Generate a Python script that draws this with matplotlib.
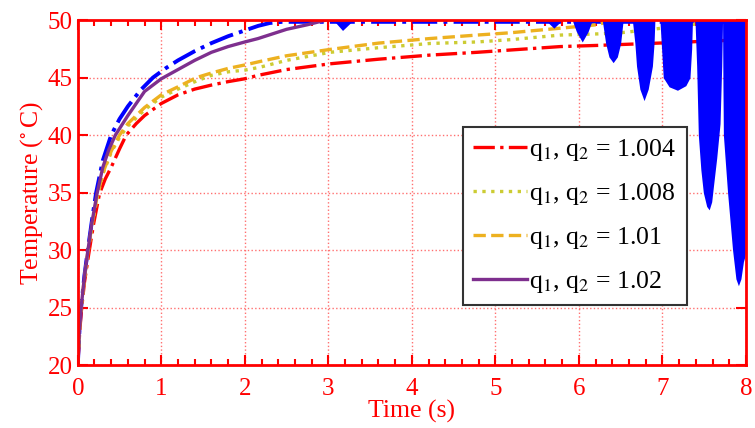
import numpy as np
import matplotlib
matplotlib.use('Agg')
import matplotlib.pyplot as plt

plt.rcParams['font.family'] = ['Liberation Serif', 'DejaVu Serif']
plt.rcParams['mathtext.fontset'] = 'stix'

# read-off values (time in s, temperature in deg C)
t_red = [0, 0.02, 0.04, 0.08, 0.13, 0.19, 0.26, 0.33, 0.4, 0.5, 0.58, 0.7, 0.8, 1.0, 1.2,
         1.4, 1.6, 1.8, 2.0, 2.16, 2.5, 3.02, 3.6, 4.22, 4.78, 5.18, 5.78, 6.22, 6.95, 8.0]
T_red = [20, 22.5, 24.5, 27.2, 29.6, 32.3, 34.9, 36.2, 37.2, 38.8, 40.0, 41.0, 41.7, 42.75, 43.5,
         44.0, 44.35, 44.65, 44.9, 45.2, 45.7, 46.2, 46.6, 46.96, 47.2, 47.4, 47.7, 47.8, 48.0, 48.3]

t_yel = [0, 0.02, 0.04, 0.08, 0.12, 0.17, 0.23, 0.3, 0.4, 0.5, 0.6, 0.8, 1.0, 1.2, 1.42,
         1.6, 1.8, 2.0, 2.18, 2.5, 3.02, 3.6, 4.22, 4.78, 5.18, 5.78, 6.22, 6.5, 7.0, 8.0]
T_yel = [20, 23, 25, 27.5, 29.7, 32.1, 34.5, 36.6, 38.5, 39.8, 40.8, 42.2, 43.3, 44.0, 44.7,
         45.2, 45.5, 45.65, 45.9, 46.5, 47.2, 47.6, 47.97, 48.1, 48.3, 48.7, 48.8, 48.9, 49.3, 50.2]

t_ora = [0, 0.02, 0.04, 0.08, 0.12, 0.17, 0.23, 0.3, 0.4, 0.5, 0.6, 0.8, 1.0, 1.2, 1.42,
         1.6, 1.8, 2.0, 2.18, 2.5, 3.02, 3.6, 4.22, 4.78, 5.18, 5.78, 6.22, 6.45, 8.0]
T_ora = [20, 23, 25, 27.6, 29.8, 32.2, 34.6, 36.7, 38.6, 40.0, 41.0, 42.4, 43.5, 44.2, 45.0,
         45.4, 45.8, 46.1, 46.4, 46.9, 47.45, 48.0, 48.4, 48.7, 48.9, 49.3, 49.6, 50.1, 50.5]

t_pur = [0, 0.02, 0.04, 0.08, 0.12, 0.17, 0.23, 0.3, 0.37, 0.45, 0.6, 0.8, 1.0, 1.2,
         1.4, 1.6, 1.8, 2.0, 2.16, 2.5, 2.75, 2.98, 8.0]
T_pur = [20, 23, 25, 27.7, 29.9, 32.4, 34.9, 37.2, 38.7, 40.0, 41.7, 43.8, 44.9, 45.7,
         46.5, 47.2, 47.7, 48.1, 48.4, 49.2, 49.6, 50.02, 50.5]

t_blu = [0, 0.02, 0.04, 0.08, 0.12, 0.17, 0.22, 0.3, 0.4, 0.5, 0.6, 0.75, 0.9, 1.05,
         1.2, 1.4, 1.6, 1.8, 2.0, 2.16, 2.3, 2.45, 2.6, 8.0]
T_blu = [20, 23, 25, 27.8, 30, 32.6, 35, 37.8, 40, 41.4, 42.5, 43.9, 45, 45.8,
         46.5, 47.3, 48.0, 48.6, 49.1, 49.5, 49.75, 49.85, 49.85, 49.85]

# lower envelope of the oscillating blue curve (upper edge is clipped at 50)
t_env = [2.6, 3.06, 3.17, 3.30,
         5.60, 5.70, 5.80,
         5.92, 5.97, 6.04, 6.11, 6.16,
         6.28, 6.32, 6.36, 6.41, 6.46, 6.50, 6.53,
         6.64, 6.67, 6.69, 6.73, 6.78, 6.83, 6.88, 6.90, 6.91,
         6.97, 6.99, 7.01, 7.08, 7.18, 7.28, 7.33, 7.35, 7.36,
         7.39, 7.41, 7.43, 7.46, 7.49, 7.53, 7.56, 7.59, 7.61, 7.65, 7.69, 7.71,
         7.72, 7.725, 7.73, 7.78, 7.84, 7.88, 7.91, 7.94, 7.97, 7.99, 8.0]
T_env = [50, 50, 49.1, 50,
         50, 49.3, 50,
         50, 49.0, 48.1, 49.0, 50,
         50, 48.0, 46.8, 46.3, 46.8, 48.0, 50,
         50, 48.0, 46.0, 44.0, 43.0, 44.0, 46.0, 48.0, 50,
         50, 47.5, 45.0, 44.2, 43.9, 44.3, 45.0, 47.5, 50,
         50, 46.0, 40.0, 37.0, 35.0, 33.8, 33.5, 34.2, 35.5, 38.0, 41.0, 46.0,
         50, 44.0, 40.0, 35.0, 30.0, 27.5, 26.9, 27.5, 29.0, 29.5, 30.0]

labels = ['q$_1$, q$_2$ = 1.004', 'q$_1$, q$_2$ = 1.008',
          'q$_1$, q$_2$ = 1.01', 'q$_1$, q$_2$ = 1.02']

fig = plt.figure(figsize=(7.55, 4.28), dpi=100)
ax = fig.add_axes([0.103, 0.147, 0.885, 0.806])

red = '#ff0000'
ax.plot(t_blu, T_blu, '-.', color='#0000ff', lw=2.8, zorder=2)
l1, = ax.plot(t_red, T_red, '-.', color='#ff0000', lw=2.4, zorder=3)
l2, = ax.plot(t_yel, T_yel, ':', color='#cccc33', lw=2.4, zorder=3)
l3, = ax.plot(t_ora, T_ora, '--', color='#edb120', lw=2.4, zorder=3)
l4, = ax.plot(t_pur, T_pur, '-', color='#7e2f8e', lw=2.4, zorder=3)
ax.fill_between(t_env, T_env, 50.5, color='#0000ff', lw=0, zorder=4)

ax.set_xlim(0, 8)
ax.set_ylim(20, 50)
ax.set_xticks(np.arange(0, 9, 1))
ax.set_xticks(np.arange(0, 8.01, 0.2), minor=True)
ax.set_yticks(np.arange(20, 51, 5))
ax.grid(True, which='major', color='#ff7070', ls=':', lw=1.0)
ax.set_axisbelow(True)
for s in ax.spines.values():
    s.set_color(red)
    s.set_linewidth(2)
    s.set_zorder(6)
ax.tick_params(which='both', direction='in', top=True, right=True,
               colors=red, labelsize=18, width=1.5)
ax.tick_params(which='major', length=7)
ax.tick_params(which='minor', length=4)
ax.tick_params(axis='x', pad=9)
ax.set_xlabel('Time (s)', color=red, fontsize=18.5, labelpad=0)
ax.set_ylabel(r'Temperature ($^{\circ}\,$C)', color=red, fontsize=18.5, labelpad=2)

leg = ax.legend([l1, l2, l3, l4], labels, loc='lower left',
                bbox_to_anchor=(0.576, 0.174), borderaxespad=0,
                fontsize=18.5, handlelength=2.1, handletextpad=0.1,
                fancybox=False, framealpha=1, edgecolor='#333333',
                labelspacing=0.7, borderpad=0.4)
leg.get_frame().set_linewidth(1.5)
leg.set_zorder(7)

fig.savefig('out.png', dpi=100)
